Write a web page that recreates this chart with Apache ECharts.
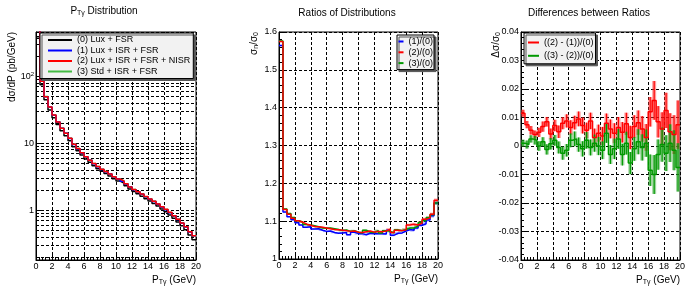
<!DOCTYPE html>
<html><head><meta charset="utf-8">
<script src="https://cdn.jsdelivr.net/npm/echarts@6/dist/echarts.min.js"></script>
<style>html,body{margin:0;padding:0;background:#fff}#c{width:693px;height:294px}</style>
</head><body><div id="c"></div>
<script>
// ---------------- data ----------------
const binEdges = [0,0.5,1,1.5,2,2.5,3,3.5,4,4.5,5,5.5,6,6.5,7,7.5,8,8.5,9,9.5,10,
  10.5,11,11.5,12,12.5,13,13.5,14,14.5,15,15.5,16,16.5,17,17.5,18,18.5,19,19.5,20];

// (0) Lux + FSR  dσ/dP (pb/GeV)
const dist0 = [370,75,44.5,31.5,24,19,15.4,13,10.9,8.9,7.7,6.67,5.83,5.19,4.63,4.17,3.8,3.52,3.24,2.96,
  2.73,2.55,2.31,2.08,1.9,1.76,1.62,1.48,1.37,1.26,1.15,1.04,0.945,0.85,0.76,0.667,0.583,0.51,0.425,0.36];

// ratios to (0)
const ratio1 = [1.564,1.124,1.112,1.104,1.096,1.090,1.084,1.085,1.079,1.080,1.076,1.073,1.074,1.070,1.068,1.069,1.070,1.064,1.071,1.067,
  1.067,1.064,1.068,1.067,1.067,1.067,1.066,1.076,1.063,1.068,1.069,1.074,1.078,1.076,1.082,1.089,1.093,1.103,1.114,1.148];
const ratio2 = [1.575,1.131,1.118,1.108,1.101,1.097,1.092,1.089,1.086,1.085,1.084,1.082,1.080,1.078,1.077,1.076,1.075,1.073,1.074,1.071,
  1.070,1.072,1.074,1.071,1.073,1.072,1.074,1.079,1.070,1.076,1.075,1.077,1.090,1.092,1.090,1.095,1.105,1.108,1.118,1.155];
const ratio3 = [1.576,1.132,1.120,1.110,1.101,1.098,1.091,1.090,1.088,1.085,1.082,1.081,1.082,1.080,1.078,1.075,1.077,1.073,1.075,1.071,
  1.069,1.076,1.071,1.070,1.075,1.069,1.075,1.073,1.069,1.077,1.075,1.078,1.082,1.082,1.087,1.096,1.102,1.109,1.117,1.148];
// statistical error of the ratios (pale boxes)
const ratioErr = [0.002,0.0015,0.0015,0.0015,0.0016,0.0016,0.0017,0.0017,0.0018,0.0018,0.0019,0.0019,0.0020,0.0020,0.0021,0.0021,0.0022,0.0022,0.0023,0.0023,
  0.0024,0.0024,0.0025,0.0025,0.0026,0.0026,0.0027,0.0028,0.0029,0.0030,0.0031,0.0032,0.0034,0.0036,0.0038,0.0040,0.0042,0.0044,0.0046,0.0050];

// differences between ratios, with errors
const diff21 = [0.0115,0.0075,0.0055,0.0040,0.0048,0.0068,0.0085,0.0042,0.0072,0.0050,0.0080,0.0088,0.0065,0.0082,0.0095,0.0072,0.0055,0.0088,0.0030,0.0045,
  0.0035,0.0080,0.0060,0.0045,0.0065,0.0048,0.0078,0.0030,0.0068,0.0082,0.0060,0.0030,0.0120,0.0160,0.0085,0.0060,0.0125,0.0050,0.0040,0.0075];
const err21 = [0.0012,0.0013,0.0015,0.0014,0.0016,0.0018,0.0017,0.0019,0.0020,0.0022,0.0021,0.0023,0.0025,0.0024,0.0026,0.0028,0.0027,0.0029,0.0031,0.0030,
  0.0032,0.0034,0.0033,0.0035,0.0037,0.0036,0.0039,0.0041,0.0040,0.0043,0.0045,0.0047,0.0052,0.0068,0.0055,0.0058,0.0062,0.0065,0.0068,0.0085];
const diff32 = [0.0010,0.0005,0.0025,0.0020,0.0000,0.0015,-0.0012,0.0008,0.0020,-0.0005,-0.0025,-0.0015,0.0020,0.0025,0.0005,-0.0010,0.0020,-0.0005,0.0010,0.0000,
  -0.0015,0.0045,-0.0030,-0.0010,0.0025,-0.0030,0.0010,-0.0060,-0.0010,0.0015,-0.0005,0.0010,-0.0085,-0.0100,-0.0030,0.0005,-0.0025,0.0010,-0.0015,-0.0075];
const err32 = [0.0012,0.0014,0.0013,0.0015,0.0017,0.0016,0.0018,0.0020,0.0019,0.0021,0.0023,0.0022,0.0024,0.0026,0.0025,0.0027,0.0029,0.0028,0.0030,0.0032,
  0.0031,0.0034,0.0033,0.0036,0.0035,0.0038,0.0040,0.0039,0.0042,0.0044,0.0046,0.0048,0.0055,0.0068,0.0053,0.0060,0.0063,0.0066,0.0070,0.0085];

const logMinorGrid = [0.2,0.3,0.4,0.5,0.6,0.7,0.8,0.9,2,3,4,5,6,7,8,9,20,30,40,50,60,70,80,90,200,300,400];

const distNames = ['(0) Lux + FSR','(1) Lux + ISR + FSR','(2) Lux + ISR + FSR + NISR','(3) Std + ISR + FSR'];
const ratioNames = ['(1)/(0)','(2)/(0)','(3)/(0)'];
const diffNames = ['((2) - (1))/(0)','((3) - (2))/(0)'];

// ---------------- helpers ----------------
const FONT = '"Liberation Sans", Arial, Helvetica, sans-serif';
const C_BLACK = '#000000', C_BLUE = '#0000ff', C_RED = '#ff0000', C_GREEN = '#009900', C_GREEN1 = '#44bb44';
const rich = {
  n: {fontSize: 10, fontFamily: FONT, color: '#000'},
  s: {fontSize: 7, fontFamily: FONT, color: '#000', padding: [5, 0, 0, 0]},
  b: {fontSize: 9, fontFamily: FONT, color: '#000'},
  p: {fontSize: 6, fontFamily: FONT, color: '#000', padding: [0, 0, 5, 0]}
};
const dist1 = dist0.map((v, i) => v * ratio1[i]);
const dist2 = dist0.map((v, i) => v * ratio2[i]);
const dist3 = dist0.map((v, i) => v * ratio3[i]);

function stepData(vals) {
  const d = vals.map((v, i) => [binEdges[i], v]);
  d.push([binEdges[binEdges.length - 1], vals[vals.length - 1]]);
  return d;
}
function boxData(vals, errs) {
  return vals.map((v, i) => [binEdges[i], binEdges[i + 1], v, errs[i]]);
}
const dash = {color: '#000', type: [3, 2], width: 1};

function xAx(gi) {
  return {
    gridIndex: gi, type: 'value', min: 0, max: 20, interval: 2,
    name: '{n|P}{s|Tγ}{n| (GeV)}', nameLocation: 'end', nameGap: 0, nameMoveOverlap: false,
    nameTextStyle: {align: 'right', verticalAlign: 'top', padding: [14, 0, 0, 0], rich: rich},
    axisLine: {show: true, onZero: false, lineStyle: {color: '#000', width: 1}},
    axisTick: {show: true, inside: true, length: 5, lineStyle: {color: '#000'}},
    minorTick: {show: true, splitNumber: 5, length: 3, lineStyle: {color: '#000'}},
    axisLabel: {fontSize: 9, color: '#000', fontFamily: FONT, margin: 2},
    splitLine: {show: true, lineStyle: dash}
  };
}
function yName(text) {
  return {
    name: text, nameLocation: 'end', nameGap: 0, nameRotate: 90, nameMoveOverlap: false,
    nameTextStyle: {align: 'right', verticalAlign: 'bottom', padding: [0, 0, 19, 0], fontSize: 10, fontFamily: FONT, color: '#000', rich: rich}
  };
}
function line(name, xi, data, color, z) {
  return {
    name: name, type: 'line', xAxisIndex: xi, yAxisIndex: xi, data: data, step: 'end',
    showSymbol: false, symbol: 'none', color: color, z: z || 2,
    itemStyle: {color: color}, lineStyle: {color: color, width: 1.5}, clip: true
  };
}
function boxes(name, xi, data, color, pale, bars) {
  return {
    name: name, type: 'custom', xAxisIndex: xi, yAxisIndex: xi, clip: true, z: 2,
    encode: {x: [0, 1], y: 2},
    data: data,
    renderItem: function (params, api) {
      const x0 = api.value(0), x1 = api.value(1), v = api.value(2), e = api.value(3);
      const p0 = api.coord([x0, v + e]), p1 = api.coord([x1, v - e]);
      const xm = api.coord([(x0 + x1) / 2, v])[0];
      const ch = [{type: 'rect', shape: {x: p0[0], y: p0[1], width: p1[0] - p0[0], height: p1[1] - p0[1]}, style: {fill: pale}}];
      if (bars) ch.push({type: 'line', shape: {x1: xm, y1: p0[1], x2: xm, y2: p1[1]}, style: {stroke: color, lineWidth: 1.2}});
      return {type: 'group', children: ch};
    }
  };
}
function legendBox(data, left, top, itemWidth, gap, padding) {
  return {
    data: data, left: left, top: top, orient: 'vertical', icon: 'rect', selectedMode: false, z: 10,
    itemWidth: itemWidth, itemHeight: 2, itemGap: gap, padding: padding,
    backgroundColor: '#f2f2f2', borderColor: '#000', borderWidth: 1,
    shadowColor: '#555', shadowOffsetX: 2, shadowOffsetY: 2, shadowBlur: 0,
    textStyle: {fontSize: 9, fontFamily: FONT, color: '#000', lineHeight: 10}
  };
}
const titleStyle = {fontSize: 10, fontFamily: FONT, color: '#000', fontWeight: 'normal', rich: rich};

const option = {
  animation: false,
  backgroundColor: '#fff',
  title: [
    {text: '{n|P}{s|Tγ}{n| Distribution}', left: 104, top: 11, textAlign: 'center', textVerticalAlign: 'middle', padding: 0, textStyle: titleStyle},
    {text: 'Ratios of Distributions', left: 347, top: 13.5, textAlign: 'center', textVerticalAlign: 'middle', padding: 0, textStyle: titleStyle},
    {text: 'Differences between Ratios', left: 589, top: 13.5, textAlign: 'center', textVerticalAlign: 'middle', padding: 0, textStyle: titleStyle}
  ],
  legend: [
    legendBox(distNames, 40, 33, 24, 0.5, [2, 3, 2, 8]),
    legendBox(ratioNames, 397, 35, 5, 0.8, [1.5, 1, 1.5, 1.5]),
    legendBox(diffNames, 524, 33, 11, 3.3, [4.5, 2, 3, 4])
  ],
  grid: [
    {left: 36, top: 32, width: 160, height: 228, show: true, borderColor: '#000', borderWidth: 1, containLabel: false, outerBoundsMode: 'none'},
    {left: 279, top: 32, width: 159, height: 227, show: true, borderColor: '#000', borderWidth: 1, containLabel: false, outerBoundsMode: 'none'},
    {left: 521, top: 32, width: 159, height: 228, show: true, borderColor: '#000', borderWidth: 1, containLabel: false, outerBoundsMode: 'none'}
  ],
  xAxis: [xAx(0), xAx(1), xAx(2)],
  yAxis: [
    Object.assign({
      gridIndex: 0, type: 'log', logBase: 10, min: 0.18, max: 460,
      axisLine: {show: true, lineStyle: {color: '#000'}},
      axisTick: {show: true, inside: true, length: 5, lineStyle: {color: '#000'}},
      axisLabel: {fontSize: 9, color: '#000', fontFamily: FONT, margin: 2, showMinLabel: false, showMaxLabel: false, rich: rich,
        formatter: function (v) {
          const e = Math.log10(v), r = Math.round(e);
          if (Math.abs(e - r) > 1e-6) return '';
          if (r === 0) return '1';
          if (r === 1) return '10';
          return '{b|10}{p|' + r + '}';
        }},
      splitLine: {show: true, lineStyle: dash}
    }, yName('dσ/dP (pb/GeV)')),
    Object.assign({
      gridIndex: 1, type: 'value', min: 1, max: 1.6, interval: 0.1,
      axisLine: {show: true, onZero: false, lineStyle: {color: '#000'}},
      axisTick: {show: true, inside: true, length: 5, lineStyle: {color: '#000'}},
      minorTick: {show: true, splitNumber: 5, length: 3, lineStyle: {color: '#000'}},
      axisLabel: {fontSize: 9, color: '#000', fontFamily: FONT, margin: 2},
      splitLine: {show: true, lineStyle: dash}
    }, yName('{n|σ}{s|n}{n|/σ}{s|0}')),
    Object.assign({
      gridIndex: 2, type: 'value', min: -0.04, max: 0.04, interval: 0.01,
      axisLine: {show: true, onZero: false, lineStyle: {color: '#000'}},
      axisTick: {show: true, inside: true, length: 5, lineStyle: {color: '#000'}},
      minorTick: {show: true, splitNumber: 5, length: 3, lineStyle: {color: '#000'}},
      axisLabel: {fontSize: 9, color: '#000', fontFamily: FONT, margin: 2},
      splitLine: {show: true, lineStyle: dash}
    }, yName('{n|Δσ/σ}{s|0}'))
  ],
  series: [
    Object.assign(line(distNames[0], 0, stepData(dist0), C_BLACK), {
      markLine: {silent: true, symbol: 'none', animation: false, z: 1, label: {show: false},
        lineStyle: dash, emphasis: {disabled: true},
        data: logMinorGrid.map(v => ({yAxis: v}))}
    }),
    line(distNames[3], 0, stepData(dist3), C_GREEN1),
    line(distNames[1], 0, stepData(dist1), C_BLUE),
    line(distNames[2], 0, stepData(dist2), C_RED),

    boxes('err1', 1, boxData(ratio1, ratioErr), C_BLUE, 'rgba(80,80,255,0.45)', false),
    boxes('err3', 1, boxData(ratio3, ratioErr), C_GREEN, 'rgba(60,170,60,0.45)', false),
    boxes('err2', 1, boxData(ratio2, ratioErr), C_RED, 'rgba(255,80,80,0.45)', false),
    line(ratioNames[0], 1, stepData(ratio1), C_BLUE, 3),
    line(ratioNames[2], 1, stepData(ratio3), C_GREEN, 3),
    line(ratioNames[1], 1, stepData(ratio2), C_RED, 3),

    boxes('err21', 2, boxData(diff21, err21), C_RED, 'rgba(255,60,60,0.5)', true),
    line(diffNames[0], 2, stepData(diff21), C_RED, 3),
    boxes('err32', 2, boxData(diff32, err32), C_GREEN, 'rgba(60,170,60,0.5)', true),
    line(diffNames[1], 2, stepData(diff32), C_GREEN, 3)
  ]
};
const chart = echarts.init(document.getElementById('c'), null, {renderer: 'canvas'});
chart.setOption(option);
</script>
</body></html>
